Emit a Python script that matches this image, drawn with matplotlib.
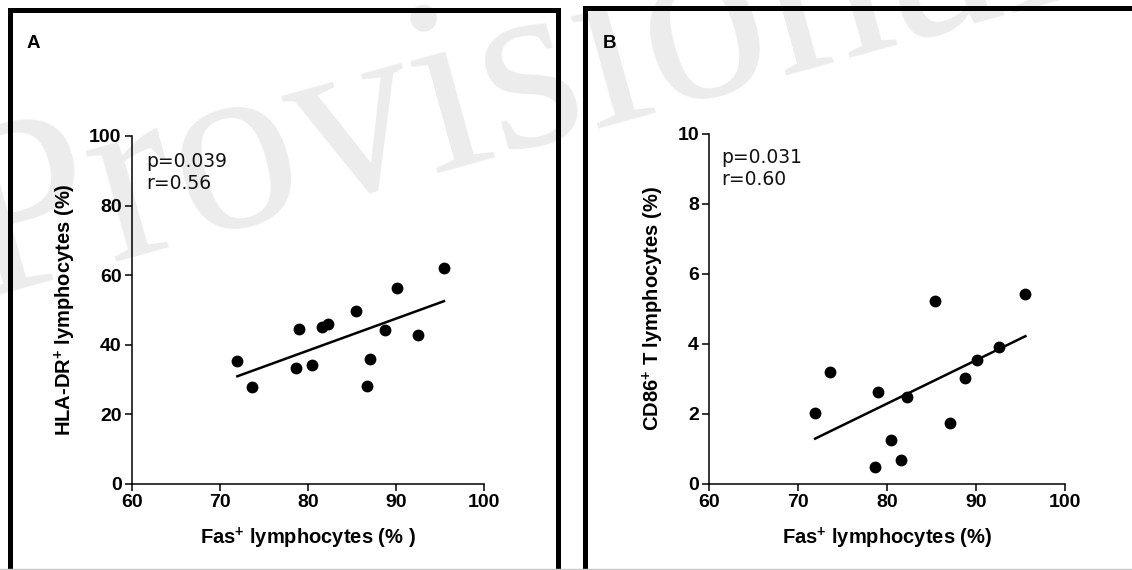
import numpy as np
import matplotlib
matplotlib.use("Agg")
import matplotlib.pyplot as plt
import matplotlib.patches as patches
from matplotlib.lines import Line2D

plt.rcParams['font.family'] = ['Liberation Sans', 'DejaVu Sans']
plt.rcParams['mathtext.default'] = 'regular'

# Panel A: Fas+ vs HLA-DR+ lymphocytes
fas_a = [71.97, 73.6, 78.6, 79.0, 80.4, 81.6, 82.3, 85.4, 86.7, 87.1, 88.75, 90.1, 92.5, 95.45]
hla_dr = [35.3, 28.0, 33.4, 44.5, 34.3, 45.2, 46.0, 49.8, 28.3, 35.8, 44.25, 56.2, 42.8, 62.0]

# Panel B: Fas+ vs CD86+ T lymphocytes
fas_b = [71.9, 73.56, 78.6, 79.0, 80.4, 81.6, 82.2, 85.4, 87.1, 88.7, 90.1, 92.55, 95.55]
cd86 = [2.02, 3.21, 0.48, 2.62, 1.26, 0.69, 2.48, 5.24, 1.75, 3.02, 3.54, 3.92, 5.43]

x_ticks = [60, 70, 80, 90, 100]
y_ticks_a = [0, 20, 40, 60, 80, 100]
y_ticks_b = [0, 2, 4, 6, 8, 10]

W, H = 1132, 570
fig = plt.figure(figsize=(W / 100, H / 100), dpi=100)


def px(x, y):
    # pixel coords (top-left origin) -> figure fraction
    return x / W, 1 - y / H


# watermark
fig.text(*px(-22, 298), "Provisional", fontsize=180, family=['Liberation Serif', 'DejaVu Serif'],
         color='#ececec', rotation=15.5, rotation_mode='anchor', ha='left', va='baseline', zorder=-5)

# panel frames
for (x0, y0, x1, y1) in [(9.5, 10.5, 557.5, 620), (584.5, 8.5, 1200, 620)]:
    (fx0, fy1), (fx1, fy0) = px(x0, y0), px(x1, y1)
    fig.patches.append(patches.Rectangle((fx0, fy0), fx1 - fx0, fy1 - fy0, transform=fig.transFigure,
                                         fill=False, edgecolor='black', linewidth=3.6, zorder=-1))
fig.add_artist(Line2D([0, 1], [1 - 568.5 / H] * 2, color='#c8c8c8', linewidth=1.0, transform=fig.transFigure))

fig.text(*px(27, 44), "A", fontsize=13.5, fontweight='bold', va='center', ha='left')
fig.text(*px(603, 44), "B", fontsize=13.5, fontweight='bold', va='center', ha='left')


def scatter_panel(rect, xs, ys, yticks, xlabel, ylabel, p_txt, r_txt, txt_pos):
    ax = fig.add_axes(rect)
    ax.patch.set_alpha(0)
    ax.plot(xs, ys, 'o', color='black', markersize=7.5, zorder=3)
    k, b = np.polyfit(xs, ys, 1)
    lx = np.array([min(xs), max(xs)])
    ax.plot(lx, k * lx + b, color='black', linewidth=1.8)
    ax.set_xlim(x_ticks[0], x_ticks[-1])
    ax.set_ylim(yticks[0], yticks[-1])
    ax.set_xticks(x_ticks)
    ax.set_yticks(yticks)
    for s in ['top', 'right']:
        ax.spines[s].set_visible(False)
    for s in ['left', 'bottom']:
        ax.spines[s].set_linewidth(1.1)
    ax.tick_params(direction='out', length=5, width=1.1, labelsize=14, pad=2.5)
    for lab in ax.get_xticklabels() + ax.get_yticklabels():
        lab.set_fontweight('bold')
    ax.set_xlabel(xlabel, fontsize=14.5, fontweight='bold', labelpad=10)
    ax.set_ylabel(ylabel, fontsize=14.5, fontweight='bold', labelpad=8)
    ax.text(txt_pos[0], txt_pos[1], p_txt + "\n" + r_txt, transform=ax.transAxes, ha='left', va='top',
            fontsize=13.5, family=['DejaVu Sans'], linespacing=1.2, color='#111111')
    return ax


scatter_panel([132 / W, 86 / H, 352 / W, 348 / H], fas_a, hla_dr, y_ticks_a,
              "Fas$^{+}$ lymphocytes (% )", "HLA-DR$^{+}$ lymphocytes (%)", "p=0.039", "r=0.56", (0.04, 0.955))
scatter_panel([709.3 / W, 86 / H, 355.7 / W, 350 / H], fas_b, cd86, y_ticks_b,
              "Fas$^{+}$ lymphocytes (%)", "CD86$^{+}$ T lymphocytes (%)", "p=0.031", "r=0.60", (0.035, 0.96))

fig.savefig("out.png", dpi=100)
